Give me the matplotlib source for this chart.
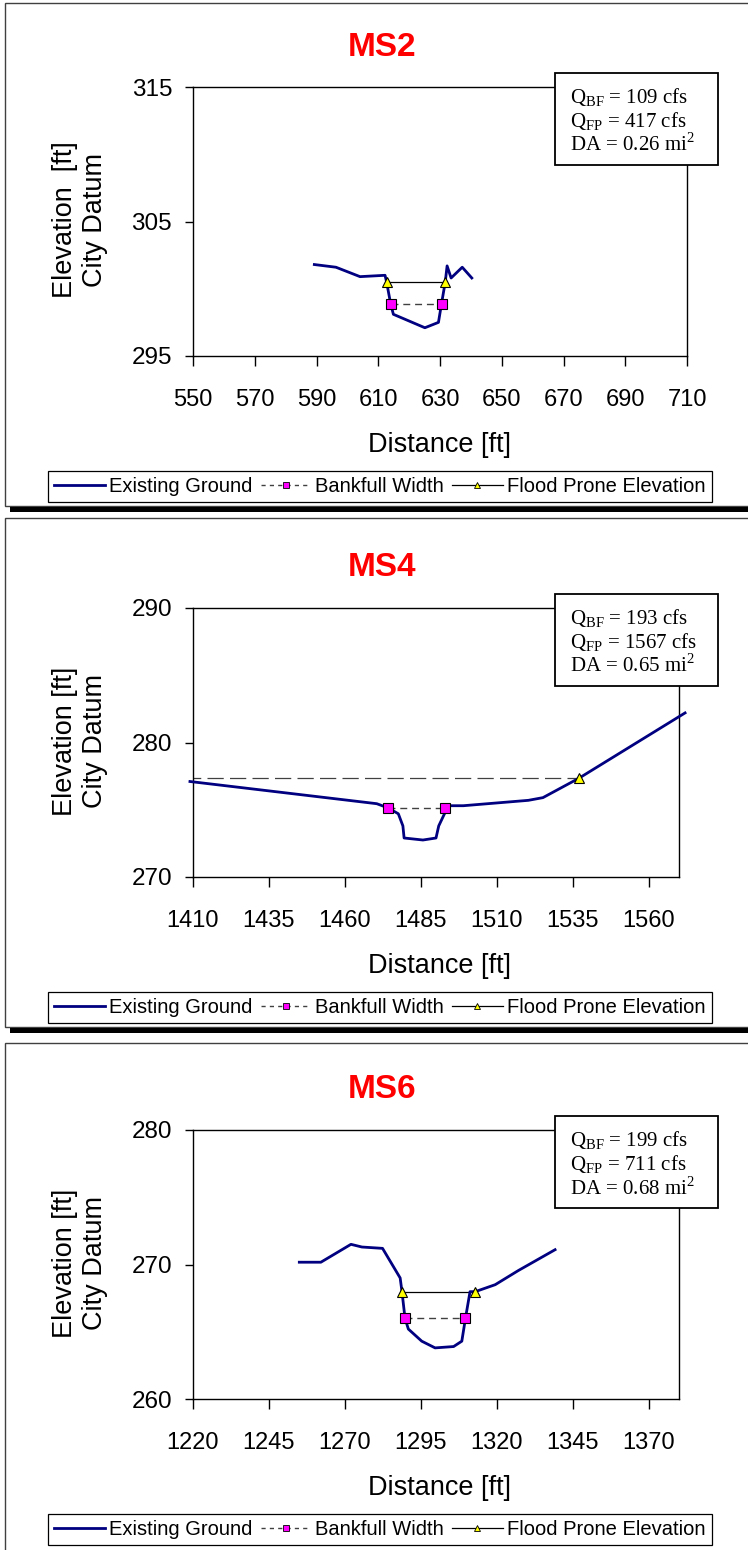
import matplotlib
matplotlib.use('Agg')
import matplotlib.pyplot as plt
from matplotlib import patches
from matplotlib.lines import Line2D

W, H = 748, 1550
DPI = 100

# ---- data ----
titles = ['MS2', 'MS4', 'MS6']
ylabels = ['Elevation  [ft]\nCity Datum', 'Elevation [ft]\nCity Datum', 'Elevation [ft]\nCity Datum']

ms2_ground_x = [589.3, 596.3, 604.1, 612.2, 612.7, 614.0, 614.9, 625.1, 629.5, 630.5, 631.7, 632.3, 633.6, 637.2, 640.3]
ms2_ground_y = [301.8, 301.6, 300.9, 301.0, 300.5, 298.9, 298.1, 297.1, 297.5, 298.9, 300.5, 301.7, 300.8, 301.6, 300.8]
ms2_bank_x = [614.0, 630.5]
ms2_bank_y = [298.9, 298.9]
ms2_flood_x = [612.7, 631.7]
ms2_flood_y = [300.5, 300.5]
ms2_xticks = [550, 570, 590, 610, 630, 650, 670, 690, 710]
ms2_yticks = [295, 305, 315]
ms2_stats = ['109', '417', '0.26']

ms4_ground_x = [1409, 1470.5, 1474.3, 1477.6, 1479.1, 1479.5, 1485.7, 1490.0, 1490.9, 1493.0, 1493.0,
                1494.1, 1499.0, 1520.4, 1525.2, 1537.1, 1572]
ms4_ground_y = [277.1, 275.45, 275.13, 274.7, 273.8, 272.9, 272.75, 272.9, 273.8, 274.8, 275.13,
                275.3, 275.3, 275.7, 275.9, 277.35, 282.2]
ms4_bank_x = [1474.3, 1493.0]
ms4_bank_y = [275.13, 275.13]
ms4_flood_x = [1395, 1537.1]
ms4_flood_y = [277.35, 277.35]
ms4_xticks = [1410, 1435, 1460, 1485, 1510, 1535, 1560]
ms4_yticks = [270, 280, 290]
ms4_stats = ['193', '1567', '0.65']

ms6_ground_x = [1255.0, 1262.1, 1272.0, 1275.6, 1282.4, 1288.2, 1288.8, 1289.8, 1290.9, 1295.3, 1299.7,
                1305.8, 1308.5, 1309.7, 1311.2, 1312.9, 1319.5, 1327.1, 1339.2]
ms6_ground_y = [270.17, 270.17, 271.5, 271.3, 271.2, 269.0, 267.98, 266.0, 265.2, 264.3, 263.8,
                263.9, 264.3, 266.0, 267.98, 267.98, 268.5, 269.55, 271.1]
ms6_bank_x = [1289.8, 1309.7]
ms6_bank_y = [266.0, 266.0]
ms6_flood_x = [1288.8, 1312.9]
ms6_flood_y = [267.98, 267.98]
ms6_xticks = [1220, 1245, 1270, 1295, 1320, 1345, 1370]
ms6_yticks = [260, 270, 280]
ms6_stats = ['199', '711', '0.68']

legend_labels = ['Existing Ground', 'Bankfull Width', 'Flood Prone Elevation']

NAVY = '#000080'
SANS = ['Liberation Sans', 'DejaVu Sans']
SERIF = ['Liberation Serif', 'DejaVu Serif']


def fx(x):
    return x / W


def fy(y):
    return 1 - y / H


def frame(fig, top, bottom, shadow):
    # thin outer border of each chart panel
    fig.add_artist(patches.Rectangle((fx(5), fy(bottom)), fx(760) - fx(5), fy(top) - fy(bottom),
                                     transform=fig.transFigure, fc='white', ec='#404040', lw=1.0, zorder=0))
    if shadow:
        fig.add_artist(patches.Rectangle((fx(10), fy(bottom + 6)), fx(760) - fx(10), fy(bottom + 1) - fy(bottom + 6),
                                         transform=fig.transFigure, fc='black', ec='none', zorder=0))


def panel(fig, off, xlim, ylim, right, gx, gy, bx, by, fx_, fy_, xticks, yticks, title, ylabel, stats,
          flood_ls='-'):
    ax = fig.add_axes([fx(193), fy(off + 356), fx(right) - fx(193), (356 - 87) / H])
    ax.plot(gx, gy, color=NAVY, lw=2.0, zorder=3, clip_on=False, solid_joinstyle='round')
    ax.plot(bx, by, color='#404040', lw=1.0, ls=(0, (5, 3.5)), zorder=2)
    ax.plot(bx, by, ls='none', marker='s', ms=6.5, mfc='#FF00FF', mec='black', mew=0.8, zorder=5)
    if flood_ls == '-':
        ax.plot(fx_, fy_, color='black', lw=0.9, zorder=2)
    else:
        ax.plot(fx_, fy_, color='#404040', lw=0.9, ls=(6, (13, 5)), zorder=2)
    ax.plot(fx_, fy_, ls='none', marker='^', ms=7, mfc='#FFFF00', mec='black', mew=0.8, zorder=5)

    ax.set_xlim(*xlim)
    ax.set_ylim(*ylim)
    ax.set_xticks(xticks)
    ax.set_yticks(yticks)
    ax.tick_params(axis='x', direction='out', length=7, width=1, pad=17, labelsize=17)
    ax.tick_params(axis='y', direction='out', length=6, width=1, pad=9, labelsize=17.5)
    for lab in ax.get_xticklabels() + ax.get_yticklabels():
        lab.set_family(SANS)
    for s in ax.spines.values():
        s.set_linewidth(1.0)
        s.set_color('black')
    ax.patch.set_alpha(0)

    fig.text(fx(382), fy(off + 47), title, color='#FF0000', fontsize=24, fontweight='bold',
             family=SANS, ha='center', va='center')
    fig.text(fx(440), fy(off + 445), 'Distance [ft]', fontsize=19.5, family=SANS, ha='center', va='center')
    fig.text(fx(80), fy(off + 220), ylabel, fontsize=19.5, family=SANS, ha='center', va='center',
             rotation=90, linespacing=1.2, multialignment='center')

    # discharge / drainage area box
    fig.add_artist(patches.Rectangle((fx(555), fy(off + 165)), fx(718) - fx(555), fy(off + 73) - fy(off + 165),
                                     transform=fig.transFigure, fc='white', ec='black', lw=1.3, zorder=10))
    lines = [r'Q$_\mathregular{BF}$ = %s cfs' % stats[0],
             r'Q$_\mathregular{FP}$ = %s cfs' % stats[1],
             r'DA = %s mi$^\mathregular{2}$' % stats[2]]
    for i, t in enumerate(lines):
        fig.text(fx(570), fy(off + 98 + 23.5 * i), t, fontsize=15, family=SERIF, ha='left', va='center',
                 zorder=11)

    handles = [Line2D([], [], color=NAVY, lw=2.0),
               Line2D([], [], color='#404040', lw=1.0, ls=(0, (3, 3)), marker='s', ms=5,
                      mfc='#FF00FF', mec='black', mew=0.6),
               Line2D([], [], color='black', lw=0.9, marker='^', ms=5, mfc='#FFFF00', mec='black', mew=0.6)]
    leg = fig.legend(handles, legend_labels, loc='center', bbox_to_anchor=(fx(380), fy(off + 486.5)),
                     ncol=3, frameon=True, fancybox=False, edgecolor='black', framealpha=1,
                     prop={'family': SANS, 'size': 14.5}, handlelength=2.5, handletextpad=0.22,
                     columnspacing=0.4, borderpad=0.3, borderaxespad=0)
    leg.get_frame().set_linewidth(0.9)
    return ax


fig = plt.figure(figsize=(W / DPI, H / DPI), dpi=DPI)
fig.patch.set_facecolor('white')

frame(fig, 3, 506, True)
frame(fig, 518, 1027, True)
frame(fig, 1043, 1560, False)

panel(fig, 0, (550, 710), (295, 315), 687, ms2_ground_x, ms2_ground_y, ms2_bank_x, ms2_bank_y,
      ms2_flood_x, ms2_flood_y, ms2_xticks, ms2_yticks, titles[0], ylabels[0], ms2_stats)
panel(fig, 521, (1410, 1570), (270, 290), 679, ms4_ground_x, ms4_ground_y, ms4_bank_x, ms4_bank_y,
      ms4_flood_x, ms4_flood_y, ms4_xticks, ms4_yticks, titles[1], ylabels[1], ms4_stats, flood_ls='--')
panel(fig, 1043, (1220, 1380), (260, 280), 679, ms6_ground_x, ms6_ground_y, ms6_bank_x, ms6_bank_y,
      ms6_flood_x, ms6_flood_y, ms6_xticks, ms6_yticks, titles[2], ylabels[2], ms6_stats)

fig.savefig('out.png', dpi=DPI)
